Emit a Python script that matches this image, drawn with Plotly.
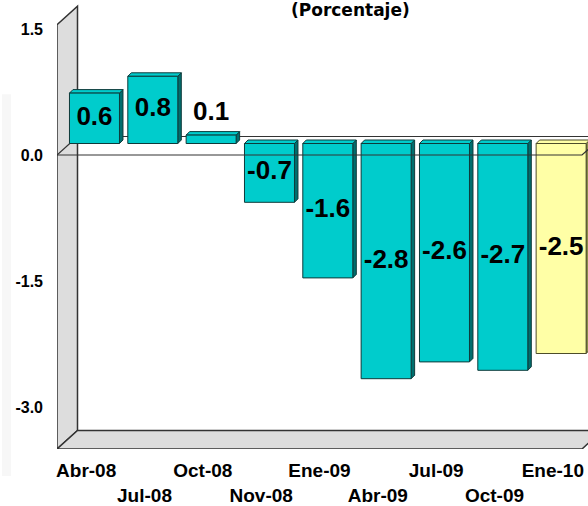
import plotly.graph_objects as go

# ---- data -------------------------------------------------------------
categories = ["Abr-08", "Jul-08", "Oct-08", "Nov-08", "Ene-09",
              "Abr-09", "Jul-09", "Oct-09", "Ene-10"]
values = [0.6, 0.8, 0.1, -0.7, -1.6, -2.8, -2.6, -2.7, -2.5]
front_colors = ["#00CCCC"] * 8 + ["#FFFFA6"]
side_colors = ["#006E6E"] * 8 + ["#8C8C4A"]
edge_colors = ["#0E3A3A"] * 8 + ["#4D4D2A"]
y_ticks = [1.5, 0.0, -1.5, -3.0]
y_tick_labels = ["1.5", "0.0", "-1.5", "-3.0"]
subtitle = "(Porcentaje)"

# ---- geometry (pixels) ------------------------------------------------
W, H = 588, 506
LEFT, BOTTOM = 57, 449            # front plane left / floor front edge
FRONT_RIGHT = 582                 # front plane right edge
ZERO_PX = 155                     # front zero line
PX_PER_UNIT = 84.0
n = len(categories)
PX_PER_CAT = (FRONT_RIGHT - LEFT) / n

x_range = [-0.5, -0.5 + (W - LEFT) / PX_PER_CAT]
y_range = [-(BOTTOM - ZERO_PX) / PX_PER_UNIT, ZERO_PX / PX_PER_UNIT]
y_top = 1.55                       # top of the side wall (front)
y_bot = y_range[0]


def dx(px):
    return px / PX_PER_CAT


def dy(px):
    return px / PX_PER_UNIT


WALL_DX, WALL_DY = dx(20.5), dy(18.5)      # depth of the box
BAR_DX, BAR_DY = dx(8.3), dy(11.5)         # bars sit inside the box
BAR_W = 50 / PX_PER_CAT
SIDE_DX, SIDE_DY = dx(3.5), dy(3.5)        # thickness of each column

WALL_FILL = "#DDDDDD"
WALL_LINE = "#333333"


def poly(pts):
    return "M " + " L ".join(f"{x},{y}" for x, y in pts) + " Z"


shapes = []
# side wall
shapes.append(dict(type="path", xref="x", yref="y", layer="below",
                   path=poly([(-0.5, y_bot), (-0.5, y_top),
                              (-0.5 + WALL_DX, y_top + WALL_DY),
                              (-0.5 + WALL_DX, y_bot + WALL_DY)]),
                   fillcolor=WALL_FILL, line=dict(color=WALL_LINE, width=1.5)))
# floor
right = n - 0.5
shapes.append(dict(type="path", xref="x", yref="y", layer="below",
                   path=poly([(-0.5, y_bot), (-0.5 + WALL_DX, y_bot + WALL_DY),
                              (right + WALL_DX, y_bot + WALL_DY), (right, y_bot)]),
                   fillcolor=WALL_FILL, line=dict(color=WALL_LINE, width=1.5)))
# zero plane: back edge and side diagonal
shapes.append(dict(type="line", xref="x", yref="y", layer="below",
                   x0=-0.5 + WALL_DX, y0=WALL_DY, x1=right + WALL_DX, y1=WALL_DY,
                   line=dict(color=WALL_LINE, width=1.2)))
shapes.append(dict(type="line", xref="x", yref="y", layer="below",
                   x0=-0.5, y0=0, x1=-0.5 + WALL_DX, y1=WALL_DY,
                   line=dict(color=WALL_LINE, width=1.2)))

# column side and top faces
for i, v in enumerate(values):
    xl = i - BAR_W / 2 + BAR_DX
    xr = i + BAR_W / 2 + BAR_DX
    y0 = BAR_DY
    y1 = v + BAR_DY
    shapes.append(dict(type="path", xref="x", yref="y", layer="below",
                       path=poly([(xr, y0), (xr, y1), (xr + SIDE_DX, y1 + SIDE_DY),
                                  (xr + SIDE_DX, y0 + SIDE_DY)]),
                       fillcolor=side_colors[i],
                       line=dict(color=edge_colors[i], width=1)))
    ytop = max(y0, y1)
    shapes.append(dict(type="path", xref="x", yref="y", layer="below",
                       path=poly([(xl, ytop), (xl + SIDE_DX, ytop + SIDE_DY),
                                  (xr + SIDE_DX, ytop + SIDE_DY), (xr, ytop)]),
                       fillcolor=front_colors[i],
                       line=dict(color=edge_colors[i], width=1)))

# front edge of the zero plane, in front of the columns
shapes.append(dict(type="path", xref="x", yref="y", layer="above",
                   path=f"M -0.5,0 L {right},0 L {right + WALL_DX},{WALL_DY}",
                   line=dict(color=WALL_LINE, width=1.2)))

# faint band at the far left
shapes.append(dict(type="rect", xref="paper", yref="paper", layer="below",
                   x0=-55 / (W - LEFT), x1=-46 / (W - LEFT),
                   y0=-0.06, y1=0.79, fillcolor="#F7F7F7", line=dict(width=0)))

fig = go.Figure()
fig.add_trace(go.Bar(
    x=list(range(n)), y=values, width=BAR_W,
    marker=dict(color=front_colors, line=dict(color=edge_colors, width=1)),
    xaxis="x2", yaxis="y2", hoverinfo="skip", showlegend=False,
))

label_y = [v / 2 if abs(v) >= 0.3 else v + 0.26 for v in values]
fig.add_trace(go.Scatter(
    x=list(range(n)), y=label_y, mode="text",
    text=[f"{v:.1f}" for v in values],
    textfont=dict(family="Liberation Sans, Arial", size=26, color="black",
                  weight="bold"),
    xaxis="x2", yaxis="y2", hoverinfo="skip", showlegend=False,
))

tick_text = [c if i % 2 == 0 else "<br>" + c for i, c in enumerate(categories)]

fig.update_layout(
    width=W, height=H,
    margin=dict(l=LEFT, r=0, t=0, b=H - BOTTOM),
    paper_bgcolor="white", plot_bgcolor="white",
    shapes=shapes,
    xaxis=dict(range=x_range, tickvals=list(range(n)), ticktext=tick_text,
               showgrid=False, zeroline=False, showline=False, ticks="",
               tickangle=0, automargin=False, ticklabelstandoff=8,
               tickfont=dict(family="Liberation Sans, Arial", size=19,
                             color="black", weight="bold")),
    yaxis=dict(range=y_range, tickvals=y_ticks, ticktext=y_tick_labels,
               showgrid=False, zeroline=False, showline=False, ticks="",
               automargin=False, ticklabelstandoff=13,
               tickfont=dict(family="Liberation Sans, Arial", size=16,
                             color="black", weight="bold")),
    xaxis2=dict(range=[r - BAR_DX for r in x_range], overlaying="x",
                visible=False),
    yaxis2=dict(range=[r - BAR_DY for r in y_range], overlaying="y",
                visible=False),
    annotations=[dict(text=subtitle, xref="paper", yref="paper",
                      x=(350 - LEFT) / (W - LEFT), y=1 - 10 / BOTTOM,
                      xanchor="center", yanchor="middle", showarrow=False,
                      font=dict(family="DejaVu Sans", size=17, color="black",
                                weight="bold"))],
)

fig.write_html("out.html")
